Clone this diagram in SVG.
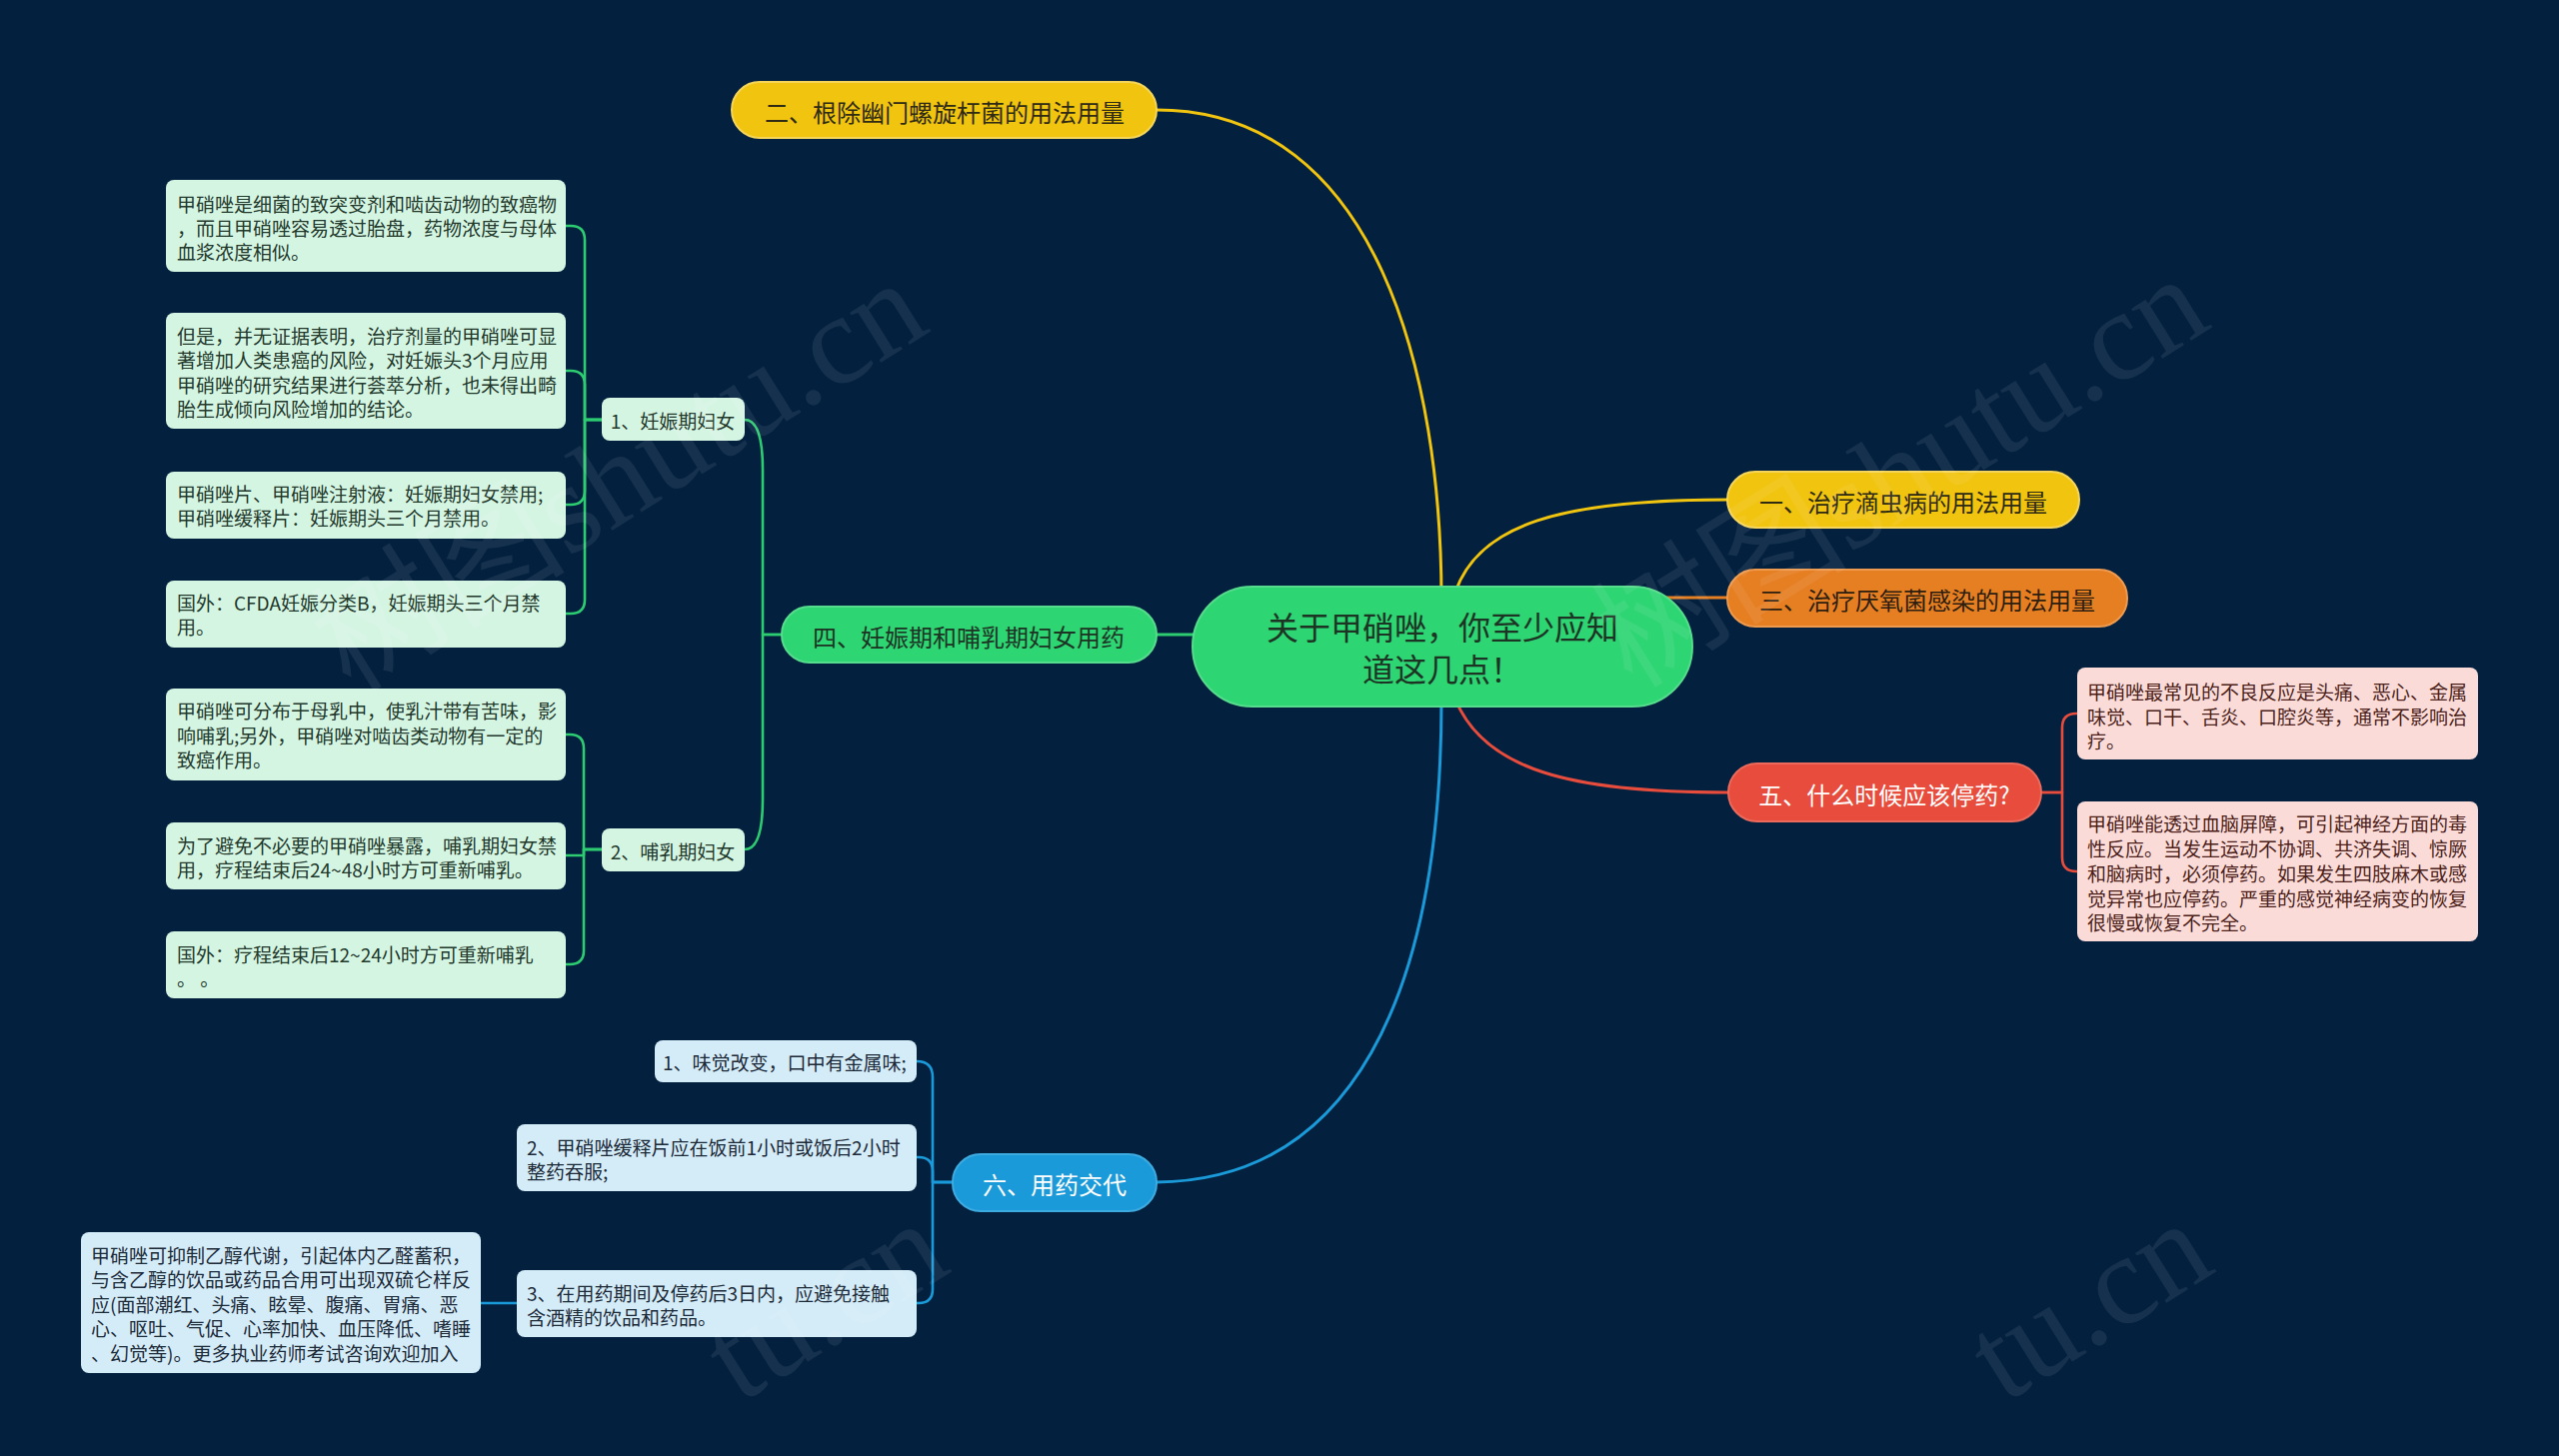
<svg xmlns="http://www.w3.org/2000/svg" width="2560" height="1457" viewBox="0 0 2560 1457">
<style>
text{font-family:"Noto Sans CJK SC","Noto Sans",sans-serif;dominant-baseline:central}
.wm{font-family:"Liberation Serif","Noto Sans CJK SC",serif;font-size:128px;fill:#ffffff;opacity:0.07;dominant-baseline:alphabetic}
.c{fill:none;stroke-width:3;stroke-linecap:round;stroke-linejoin:round}
.s{fill:none;stroke-width:2.6;stroke-linecap:round;stroke-linejoin:round}
.g{stroke:#2ECC71}.y{stroke:#F1C40F}.o{stroke:#E67E22}.r{stroke:#E74C3C}.b{stroke:#1B9AD9}
.main{font-size:24px;text-anchor:middle}
.leaf{font-size:19px}
.lg{fill:#D5F5E3}.lr{fill:#FADBD8}.lb{fill:#D4ECF8}
.tg{fill:#23392C}.tr{fill:#4D1F1A}.tb{fill:#1C2A38}
</style>
<rect width="2560" height="1457" fill="#03213F"/>
<g id="connectors">
<path class="c y" d="M1157,110 C1380,110 1442,380 1442,600"/>
<path class="c y" d="M1456,592 C1480,525 1560,500 1729,500"/>
<path class="c o" d="M1650,598 H1729"/>
<path class="c r" d="M1456,700 C1485,770 1570,793 1729,793"/>
<path class="c g" d="M1157,635 H1210"/>
<path class="c b" d="M1157,1183 C1350,1181 1442,1000 1442,700"/>
<path class="s g" d="M782,635 H763 V470 Q763,420 745,420"/>
<path class="s g" d="M782,635 H763 V800 Q763,850 745,850"/>
<path class="s g" d="M602,420 H585 V240 Q585,226 571,226 H566"/>
<path class="s g" d="M602,420 H585 V385 Q585,371 571,371 H566"/>
<path class="s g" d="M602,420 H585 V491 Q585,505 571,505 H566"/>
<path class="s g" d="M602,420 H585 V600 Q585,614 571,614 H566"/>
<path class="s g" d="M602,850 H584 V749 Q584,735 570,735 H566"/>
<path class="s g" d="M602,850 H584 V856 H566"/>
<path class="s g" d="M602,850 H584 V951 Q584,965 570,965 H566"/>
<path class="s b" d="M953,1183 H933 V1078 Q933,1062 917,1062"/>
<path class="s b" d="M953,1183 H933 V1172 Q933,1158 919,1158 H917"/>
<path class="s b" d="M953,1183 H933 V1290 Q933,1304 919,1304 H917"/>
<path class="s b" d="M517,1304 H481"/>
<path class="s r" d="M2042,793 H2063 V728 Q2063,714 2077,714 H2078"/>
<path class="s r" d="M2042,793 H2063 V858 Q2063,872 2077,872 H2078"/>
</g>
<g id="center">
<rect x="1193" y="587" width="500" height="120" rx="60" fill="#2ED573" stroke="#55DC8C" stroke-width="2"/>
<text x="1443" y="626" font-size="32" text-anchor="middle" fill="#1D3424">关于甲硝唑，你至少应知</text>
<text x="1443" y="668" font-size="32" text-anchor="middle" fill="#1D3424">道这几点！</text>
</g>
<g id="n2">
<rect x="732" y="82" width="425" height="56" rx="28" fill="#F1C40F" stroke="#F6D65A" stroke-width="2"/>
<text class="main" x="945" y="111" fill="#2E2A14">二、根除幽门螺旋杆菌的用法用量</text>
</g>
<g id="n1">
<rect x="1728" y="472" width="352" height="56" rx="28" fill="#F1C40F" stroke="#F6D65A" stroke-width="2"/>
<text class="main" x="1904" y="501" fill="#2E2A14">一、治疗滴虫病的用法用量</text>
</g>
<g id="n3">
<rect x="1728" y="570" width="400" height="57" rx="28" fill="#E67E22" stroke="#EE9A4E" stroke-width="2"/>
<text class="main" x="1928" y="599" fill="#2E1F10">三、治疗厌氧菌感染的用法用量</text>
</g>
<g id="n5">
<rect x="1729" y="764" width="313" height="58" rx="29" fill="#E74C3C" stroke="#EC6A5C" stroke-width="2"/>
<text class="main" x="1885" y="794" fill="#FFFFFF">五、什么时候应该停药?</text>
</g>
<g id="n4">
<rect x="782" y="607" width="375" height="56" rx="28" fill="#2ED573" stroke="#55DC8C" stroke-width="2"/>
<text class="main" x="969" y="636" fill="#1D3424">四、妊娠期和哺乳期妇女用药</text>
</g>
<g id="n6">
<rect x="953" y="1155" width="204" height="57" rx="28" fill="#1B9AD9" stroke="#3DAAE0" stroke-width="2"/>
<text class="main" x="1055" y="1184" fill="#FFFFFF">六、用药交代</text>
</g>
<g id="n4-1">
<rect x="602" y="398" width="143" height="43" rx="8" class="lg"/>
<text class="leaf tg" x="673" y="420" text-anchor="middle">1、妊娠期妇女</text>
</g>
<g id="n4-2">
<rect x="602" y="829" width="143" height="43" rx="8" class="lg"/>
<text class="leaf tg" x="673" y="851" text-anchor="middle">2、哺乳期妇女</text>
</g>
<g id="leafA">
<rect x="166" y="180" width="400" height="92" rx="8" class="lg"/>
<text class="leaf tg" x="177" y="203">甲硝唑是细菌的致突变剂和啮齿动物的致癌物</text>
<text class="leaf tg" x="177" y="227">，而且甲硝唑容易透过胎盘，药物浓度与母体</text>
<text class="leaf tg" x="177" y="251">血浆浓度相似。</text>
</g>
<g id="leafB">
<rect x="166" y="313" width="400" height="116" rx="8" class="lg"/>
<text class="leaf tg" x="177" y="335">但是，并无证据表明，治疗剂量的甲硝唑可显</text>
<text class="leaf tg" x="177" y="359.5">著增加人类患癌的风险，对妊娠头3个月应用</text>
<text class="leaf tg" x="177" y="384">甲硝唑的研究结果进行荟萃分析，也未得出畸</text>
<text class="leaf tg" x="177" y="408">胎生成倾向风险增加的结论。</text>
</g>
<g id="leafC">
<rect x="166" y="472" width="400" height="67" rx="8" class="lg"/>
<text class="leaf tg" x="177" y="493.5">甲硝唑片、甲硝唑注射液：妊娠期妇女禁用;</text>
<text class="leaf tg" x="177" y="517.5">甲硝唑缓释片：妊娠期头三个月禁用。</text>
</g>
<g id="leafD">
<rect x="166" y="581" width="400" height="67" rx="8" class="lg"/>
<text class="leaf tg" x="177" y="602.5">国外：CFDA妊娠分类B，妊娠期头三个月禁</text>
<text class="leaf tg" x="177" y="626.5">用。</text>
</g>
<g id="leafE">
<rect x="166" y="689" width="400" height="92" rx="8" class="lg"/>
<text class="leaf tg" x="177" y="710.5">甲硝唑可分布于母乳中，使乳汁带有苦味，影</text>
<text class="leaf tg" x="177" y="735">响哺乳;另外，甲硝唑对啮齿类动物有一定的</text>
<text class="leaf tg" x="177" y="759">致癌作用。</text>
</g>
<g id="leafF">
<rect x="166" y="823" width="400" height="67" rx="8" class="lg"/>
<text class="leaf tg" x="177" y="845">为了避免不必要的甲硝唑暴露，哺乳期妇女禁</text>
<text class="leaf tg" x="177" y="869">用，疗程结束后24~48小时方可重新哺乳。</text>
</g>
<g id="leafG">
<rect x="166" y="932" width="400" height="67" rx="8" class="lg"/>
<text class="leaf tg" x="177" y="954">国外：疗程结束后12~24小时方可重新哺乳</text>
<text class="leaf tg" x="177" y="978">。 。</text>
</g>
<g id="leafR1">
<rect x="2078" y="668" width="401" height="92" rx="8" class="lr"/>
<text class="leaf tr" x="2088" y="691">甲硝唑最常见的不良反应是头痛、恶心、金属</text>
<text class="leaf tr" x="2088" y="716">味觉、口干、舌炎、口腔炎等，通常不影响治</text>
<text class="leaf tr" x="2088" y="740">疗。</text>
</g>
<g id="leafR2">
<rect x="2078" y="802" width="401" height="140" rx="8" class="lr"/>
<text class="leaf tr" x="2088" y="823">甲硝唑能透过血脑屏障，可引起神经方面的毒</text>
<text class="leaf tr" x="2088" y="848">性反应。当发生运动不协调、共济失调、惊厥</text>
<text class="leaf tr" x="2088" y="873">和脑病时，必须停药。如果发生四肢麻木或感</text>
<text class="leaf tr" x="2088" y="898">觉异常也应停药。严重的感觉神经病变的恢复</text>
<text class="leaf tr" x="2088" y="922">很慢或恢复不完全。</text>
</g>
<g id="leafB1">
<rect x="655" y="1041" width="262" height="42" rx="8" class="lb"/>
<text class="leaf tb" x="663" y="1062">1、味觉改变，口中有金属味;</text>
</g>
<g id="leafB2">
<rect x="517" y="1125" width="400" height="67" rx="8" class="lb"/>
<text class="leaf tb" x="527" y="1147">2、甲硝唑缓释片应在饭前1小时或饭后2小时</text>
<text class="leaf tb" x="527" y="1171">整药吞服;</text>
</g>
<g id="leafB3">
<rect x="517" y="1271" width="400" height="67" rx="8" class="lb"/>
<text class="leaf tb" x="527" y="1293">3、在用药期间及停药后3日内，应避免接触</text>
<text class="leaf tb" x="527" y="1317">含酒精的饮品和药品。</text>
</g>
<g id="leafB4">
<rect x="81" y="1233" width="400" height="141" rx="8" class="lb"/>
<text class="leaf tb" x="91" y="1255">甲硝唑可抑制乙醇代谢，引起体内乙醛蓄积，</text>
<text class="leaf tb" x="91" y="1279.5">与含乙醇的饮品或药品合用可出现双硫仑样反</text>
<text class="leaf tb" x="91" y="1304">应(面部潮红、头痛、眩晕、腹痛、胃痛、恶</text>
<text class="leaf tb" x="91" y="1328.5">心、呕吐、气促、心率加快、血压降低、嗜睡</text>
<text class="leaf tb" x="91" y="1353">、幻觉等)。更多执业药师考试咨询欢迎加入</text>
</g>
<g id="watermarks">
<text class="wm" transform="translate(351,694) rotate(-32)">树图shutu.cn</text>
<text class="wm" transform="translate(1633,690) rotate(-32)">树图shutu.cn</text>
<text class="wm" transform="translate(740,1405) rotate(-32)">tu.cn</text>
<text class="wm" transform="translate(2005,1405) rotate(-32)">tu.cn</text>
</g>
</svg>
